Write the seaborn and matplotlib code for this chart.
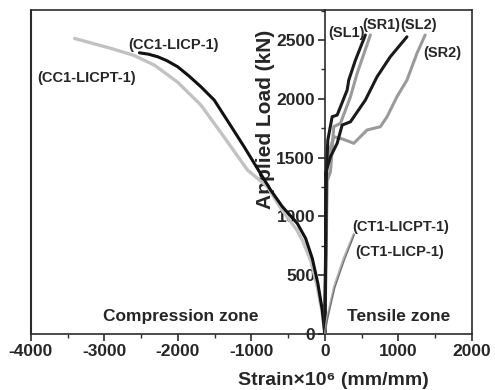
import matplotlib
matplotlib.use('Agg')
import matplotlib.pyplot as plt
import seaborn as sns
from matplotlib.ticker import MultipleLocator

# compression side concrete gauges
cc_licp_x = [0, -35, -95, -171, -262, -375, -578, -737, -900, -1099, -1300, -1506, -1687, -1850, -2003, -2150, -2274, -2400, -2524]
cc_licp_y = [0, 204, 431, 644, 814, 941, 1083, 1224, 1390, 1593, 1790, 1990, 2103, 2195, 2273, 2325, 2358, 2380, 2392]
cc_licpt_x = [0, -40, -110, -190, -300, -380, -600, -782, -1053, -1400, -1687, -2000, -2320, -2600, -2908, -3150, -3406]
cc_licpt_y = [0, 200, 420, 620, 790, 884, 1070, 1253, 1395, 1700, 1947, 2140, 2287, 2370, 2429, 2470, 2514]

# tensile side steel gauges
sl1_x = [0, 12, 20, 25, 41, 100, 168, 304, 326, 417, 552]
sl1_y = [0, 700, 1300, 1420, 1650, 1848, 1862, 2075, 2160, 2330, 2543]
sr1_x = [0, 15, 30, 77, 122, 213, 349, 440, 620]
sr1_y = [0, 700, 1300, 1380, 1763, 1792, 2018, 2217, 2543]
sl2_x = [0, 10, 15, 9, 77, 168, 236, 349, 552, 711, 891, 1118]
sl2_y = [0, 700, 1300, 1367, 1508, 1622, 1777, 1805, 1990, 2188, 2358, 2528]
sr2_x = [0, 20, 30, 54, 122, 258, 394, 575, 756, 847, 982, 1118, 1254, 1366]
sr2_y = [0, 700, 1400, 1537, 1678, 1655, 1622, 1735, 1763, 1848, 2018, 2160, 2387, 2543]

# tensile side concrete gauges
ct_licpt_x = [0, 32, 122, 250, 394]
ct_licpt_y = [0, 147, 402, 640, 856]
ct_licp_x = [0, 42, 135, 265, 402]
ct_licp_y = [0, 140, 392, 628, 845]

sns.set_style('ticks')
plt.rcParams['font.family'] = ['Liberation Sans', 'DejaVu Sans']
plt.rcParams['font.weight'] = 'bold'
plt.rcParams['axes.unicode_minus'] = False

axc = '#2b2b2b'
fig = plt.figure(figsize=(4.95, 3.9), dpi=100)
ax = fig.add_axes([0.0626, 0.1436, 0.8904, 0.832])

series = [
    (cc_licpt_x, cc_licpt_y, '#c2c2c2', 2.4),
    (cc_licp_x, cc_licp_y, '#111111', 2.2),
    (sr1_x, sr1_y, '#9a9a9a', 2.2),
    (sr2_x, sr2_y, '#9a9a9a', 2.2),
    (sl1_x, sl1_y, '#1a1a1a', 2.2),
    (sl2_x, sl2_y, '#1a1a1a', 2.2),
    (ct_licpt_x, ct_licpt_y, '#b5b5b5', 1.2),
    (ct_licp_x, ct_licp_y, '#707070', 1.0),
]
for xs, ys, c, lw in series:
    sns.lineplot(x=xs, y=ys, sort=False, estimator=None, color=c, lw=lw, ax=ax, zorder=3)

ax.set_xlim(-4000, 2000)
ax.set_ylim(0, 2760)

ax.spines['left'].set_position(('data', 0))
for s in ax.spines.values():
    s.set_color(axc)
    s.set_linewidth(1.2)
ax.axvline(-4000, color=axc, lw=1.5, clip_on=False, zorder=4)

ax.xaxis.set_major_locator(MultipleLocator(1000))
ax.xaxis.set_minor_locator(MultipleLocator(500))
ax.yaxis.set_major_locator(MultipleLocator(500))
ax.yaxis.set_minor_locator(MultipleLocator(250))
ax.tick_params(which='major', length=5, width=1.2, color=axc, labelsize=12.5, pad=2)
ax.tick_params(which='minor', length=3, width=1.0, color=axc)
ax.tick_params(top=False, right=False)
for lab in ax.get_xticklabels() + ax.get_yticklabels():
    lab.set_fontweight('bold')

ax.text(-805, 1828, 'Applied Load (kN)', rotation=90, ha='center', va='center',
        fontsize=15, fontweight='bold', zorder=2)
ax.text(0.686, -0.142, 'Strain\u00d710\u2076 (mm/mm)', transform=ax.transAxes,
        ha='center', va='center', fontsize=14, fontweight='bold')

lab_kw = dict(fontsize=10.5, fontweight='bold', va='center', ha='left')
ax.text(-2680, 2457, '(CC1-LICP-1)', **lab_kw)
ax.text(-3912, 2177, '(CC1-LICPT-1)', **lab_kw)
ax.text(41, 2559, '(SL1)', **lab_kw)
ax.text(507, 2628, '(SR1)', **lab_kw)
ax.text(1027, 2628, '(SL2)', **lab_kw)
ax.text(1341, 2389, '(SR2)', **lab_kw)
ax.text(372, 912, '(CT1-LICPT-1)', **lab_kw)
ax.text(417, 700, '(CT1-LICP-1)', **lab_kw)
ax.text(-3020, 147, 'Compression zone', fontsize=12.5, fontweight='bold', va='center', ha='left')
ax.text(304, 147, 'Tensile zone', fontsize=12.5, fontweight='bold', va='center', ha='left')

fig.savefig('out.png', dpi=100)
